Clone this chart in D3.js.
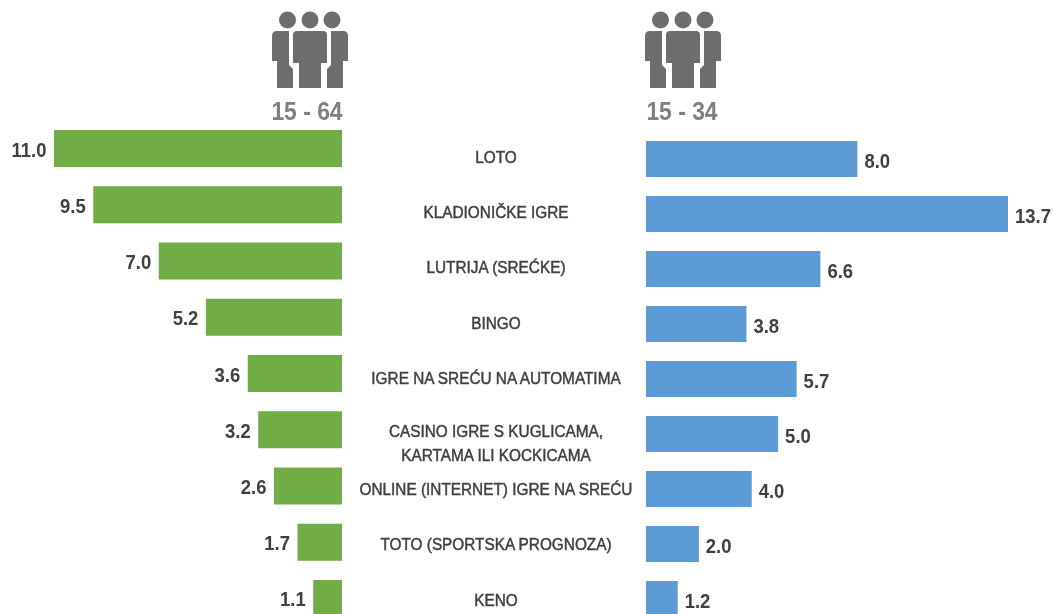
<!DOCTYPE html>
<html>
<head>
<meta charset="utf-8">
<script src="https://cdn.jsdelivr.net/npm/d3@7"></script>
<style>
  html, body { margin: 0; padding: 0; background: #fff; overflow: hidden; }
  text { font-family: "Liberation Sans", Arial, sans-serif; }
  .value { font-size: 21px; font-weight: 700; fill: #404040; }
  .cat { font-size: 16px; font-weight: 400; fill: #404040; stroke: #404040; stroke-width: 0.45px; }
  .age { font-size: 26px; font-weight: 700; fill: #7f7f7f; }
</style>
</head>
<body>
<div id="chart"></div>
<script>
const categories = [
  ["LOTO"],
  ["KLADIONIČKE IGRE"],
  ["LUTRIJA (SREĆKE)"],
  ["BINGO"],
  ["IGRE NA SREĆU NA AUTOMATIMA"],
  ["CASINO IGRE S KUGLICAMA,", "KARTAMA ILI KOCKICAMA"],
  ["ONLINE (INTERNET) IGRE NA SREĆU"],
  ["TOTO (SPORTSKA PROGNOZA)"],
  ["KENO"],
];
const catNames = categories.map((d) => d.join(" "));
const values1564 = [11.0, 9.5, 7.0, 5.2, 3.6, 3.2, 2.6, 1.7, 1.1];
const values1534 = [8.0, 13.7, 6.6, 3.8, 5.7, 5.0, 4.0, 2.0, 1.2];

const width = 1053;
const height = 614;

const svg = d3
  .select("#chart")
  .append("svg")
  .attr("width", width)
  .attr("height", height);

// soft edges, the source is a scaled-up bitmap
const blur = svg.append("defs").append("filter").attr("id", "soft");
blur.append("feGaussianBlur").attr("stdDeviation", 0.45);

function drawIcon(cx, labelX, label) {
  const g = svg.append("g").attr("filter", "url(#soft)");
  const icon = g.append("g").attr("transform", `translate(${cx},50)`).attr("fill", "#6d6d6d");
  icon.selectAll("circle")
    .data([-22.5, 0, 22])
    .join("circle")
    .attr("cx", (d) => d)
    .attr("cy", -30)
    .attr("r", 8.5);
  icon.append("path").attr("d", "M-17,-15 Q-17,-19 -13,-19 H13 Q17,-19 17,-15 V13 H11 V38 H-11 V13 H-17 Z");
  icon.append("path").attr("d", "M-38,-14 Q-38,-19 -33,-19 H-21 V15 L-17,19 V38 H-33 V11 H-38 Z");
  icon.append("path").attr("d", "M38,-14 Q38,-19 33,-19 H21 V15 L17,19 V38 H33 V11 H38 Z");
  g.append("text")
    .attr("class", "age")
    .attr("text-anchor", "middle")
    .attr("transform", `translate(${labelX},120) scale(0.88,1)`)
    .text(label);
}

drawIcon(310, 307, "15 - 64");
drawIcon(683, 682, "15 - 34");

// left panel
const yLeft = d3.scaleBand().domain(catNames).range([130, 617]).paddingInner(0.342).paddingOuter(0).align(0);
const xLeft = d3.scaleLinear().domain([0, 11]).range([342, 54]);

// right panel
const yRight = d3.scaleBand().domain(catNames).range([141, 617]).paddingInner(0.345).paddingOuter(0).align(0);
const xRight = d3.scaleLinear().domain([0, 13.7]).range([646, 1008]);

const bars = svg.append("g").attr("filter", "url(#soft)");

bars.selectAll(".left")
  .data(values1564)
  .join("rect")
  .attr("class", "left")
  .attr("x", (d) => xLeft(d))
  .attr("y", (d, i) => yLeft(catNames[i]))
  .attr("width", (d) => xLeft(0) - xLeft(d))
  .attr("height", yLeft.bandwidth())
  .attr("fill", "#70ad47");

bars.selectAll(".right")
  .data(values1534)
  .join("rect")
  .attr("class", "right")
  .attr("x", xRight(0))
  .attr("y", (d, i) => yRight(catNames[i]))
  .attr("width", (d) => xRight(d) - xRight(0))
  .attr("height", yRight.bandwidth())
  .attr("fill", "#5b9bd5");

const labels = svg.append("g").attr("filter", "url(#soft)");

labels.selectAll(".lv")
  .data(values1564)
  .join("text")
  .attr("class", "value")
  .attr("text-anchor", "end")
  .attr("transform", (d, i) => `translate(${xLeft(d) - 7.5},${yLeft(catNames[i]) + yLeft.bandwidth() / 2 + 8}) scale(0.88,1)`)
  .text((d) => d.toFixed(1));

labels.selectAll(".rv")
  .data(values1534)
  .join("text")
  .attr("class", "value")
  .attr("transform", (d, i) => `translate(${xRight(d) + 7},${yRight(catNames[i]) + yRight.bandwidth() / 2 + 9}) scale(0.88,1)`)
  .text((d) => d.toFixed(1));

// category names sit halfway between the two panels
const catY = d3.scalePoint().domain(catNames).range([157, 600]);

labels.selectAll(".cat")
  .data(categories)
  .join("text")
  .attr("class", "cat")
  .attr("text-anchor", "middle")
  .attr("transform", (d, i) => `translate(496,${catY(catNames[i]) + 5.5}) scale(0.96,1)`)
  .each(function (d) {
    d3.select(this)
      .selectAll("tspan")
      .data(d)
      .join("tspan")
      .attr("x", 0)
      .attr("dy", (t, j) => (j === 0 ? (d.length > 1 ? -2 : 0) : 24))
      .text((t) => t);
  });
</script>
</body>
</html>
